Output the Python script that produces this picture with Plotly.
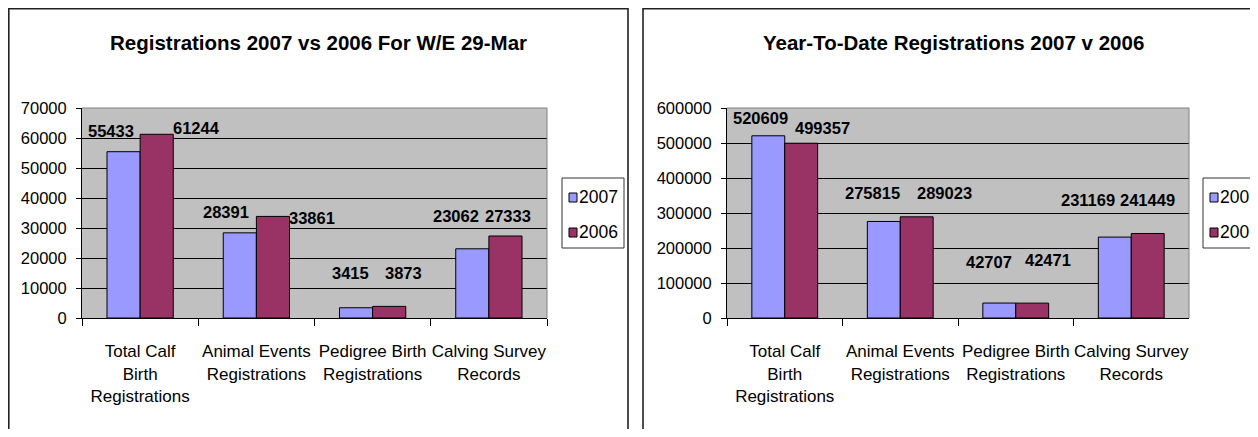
import plotly.graph_objects as go

# ---------------- data ----------------
categories = ["Total Calf<br>Birth<br>Registrations", "Animal Events<br>Registrations",
              "Pedigree Birth<br>Registrations", "Calving Survey<br>Records"]
series_names = ["2007", "2006"]

week_2007 = [55433, 28391, 3415, 23062]
week_2006 = [61244, 33861, 3873, 27333]

ytd_2007 = [520609, 275815, 42707, 231169]
ytd_2006 = [499357, 289023, 42471, 241449]

title_left = "Registrations 2007 vs 2006 For W/E 29-Mar"
title_right = "Year-To-Date Registrations 2007 v 2006"

# ---------------- styles ----------------
PAGE_OFF = 8          # default body margin of the html page
W, H = 1258 - PAGE_OFF, 437 - 2 * PAGE_OFF
C07 = "#9999FF"
C06 = "#993366"
FONT = "Liberation Sans, Arial, sans-serif"

def px(x):
    return (x - PAGE_OFF) / W

def py(y):
    return 1 - (y - PAGE_OFF) / H

# label offsets (dx, dy) in pixels relative to bar centre / bar top
left_off_07 = [(-13, -21), (-14, -21), (-6, -35), (-16, -33)]
left_off_06 = [(40, -6), (39, 2), (14, -33), (3, -20)]
right_off_07 = [(-8, -18), (-11, -28), (-10, -41), (-27, -37)]
right_off_06 = [(21, -15), (28, -24), (16, -43), (0, -33)]

fig = go.Figure()

panels = [
    ("x", "y", week_2007, week_2006, left_off_07, left_off_06),
    ("x2", "y2", ytd_2007, ytd_2006, right_off_07, right_off_06),
]

annotations = []
shapes = []
BAR_HALF = 16.5

for xa, ya, v07, v06, o07, o06 in panels:
    fig.add_trace(go.Bar(x=categories, y=v07, name=series_names[0], xaxis=xa, yaxis=ya,
                         marker=dict(color=C07, line=dict(color="black", width=1)),
                         showlegend=False))
    fig.add_trace(go.Bar(x=categories, y=v06, name=series_names[1], xaxis=xa, yaxis=ya,
                         marker=dict(color=C06, line=dict(color="black", width=1)),
                         showlegend=False))
    for vals, offs, sign in ((v07, o07, -1), (v06, o06, 1)):
        for cat, v, (dx, dy) in zip(categories, vals, offs):
            annotations.append(dict(
                x=cat, y=v, xref=xa, yref=ya, text=f"<b>{v}</b>", showarrow=False,
                xanchor="center", yanchor="middle",
                xshift=sign * BAR_HALF + dx, yshift=-dy,
                font=dict(family=FONT, size=16.5, color="black")))
    xd = xa + " domain"
    yd = ya + " domain"
    shapes.append(dict(type="line", xref=xd, yref=yd, x0=0, x1=1, y0=1, y1=1,
                       line=dict(color="#808080", width=1), layer="above"))
    shapes.append(dict(type="line", xref=xd, yref=yd, x0=1, x1=1, y0=0, y1=1,
                       line=dict(color="#808080", width=1), layer="above"))

# outer chart frames
for x0, x1 in ((8.8, 628), (643, 1270)):
    shapes.append(dict(type="rect", xref="paper", yref="paper",
                       x0=px(x0), x1=px(x1), y0=py(470), y1=py(8.8),
                       line=dict(color="#222222", width=1.6), fillcolor="rgba(0,0,0,0)",
                       layer="below"))

# titles
for t, cx in ((title_left, 318), (title_right, 953)):
    annotations.append(dict(x=px(cx), y=py(42), xref="paper", yref="paper", text=f"<b>{t}</b>",
                            showarrow=False, xanchor="center", yanchor="middle",
                            font=dict(family=FONT, size=20.5, color="black")))

# legends (drawn boxes)
for lx0, lx1 in ((562, 624), (1203, 1275)):
    shapes.append(dict(type="rect", xref="paper", yref="paper",
                       x0=px(lx0), x1=px(lx1), y0=py(248), y1=py(178),
                       line=dict(color="#333333", width=1), fillcolor="white"))
    for name, col, cy in ((series_names[0], C07, 197), (series_names[1], C06, 232)):
        shapes.append(dict(type="rect", xref="paper", yref="paper",
                           x0=px(lx0 + 7), x1=px(lx0 + 15), y0=py(cy + 5), y1=py(cy - 4),
                           line=dict(color="black", width=1), fillcolor=col))
        annotations.append(dict(x=px(lx0 + 15), y=py(cy), xref="paper", yref="paper", text=name,
                                showarrow=False, xanchor="left", yanchor="middle",
                                font=dict(family=FONT, size=17.5, color="black")))

ydom = [py(318), py(108)]
common_x = dict(type="category", range=[-0.5, 3.5], showline=True, linecolor="black", linewidth=1,
                ticks="outside", tickson="boundaries", ticklen=7, tickcolor="black",
                tickangle=0, automargin=False,
                tickfont=dict(family=FONT, size=17, color="black"), ticklabelstandoff=18,
                showgrid=False, zeroline=False, fixedrange=True)
common_y = dict(showline=True, linecolor="black", linewidth=1, ticks="outside", ticklen=5,
                tickcolor="black", showgrid=True, gridcolor="black", gridwidth=1,
                tickformat="d", automargin=False,
                tickfont=dict(family=FONT, size=16.5, color="black"), ticklabelstandoff=6,
                zeroline=False, fixedrange=True, domain=ydom)

fig.update_layout(
    width=W, height=H,
    margin=dict(l=0, r=0, t=0, b=0),
    paper_bgcolor="white", plot_bgcolor="#C0C0C0",
    barmode="group", bargap=0.43, bargroupgap=0,
    showlegend=False,
    font=dict(family=FONT, color="black"),
    xaxis=dict(domain=[px(82), px(547)], anchor="y", **common_x),
    yaxis=dict(range=[0, 70000], dtick=10000, anchor="x", **common_y),
    xaxis2=dict(domain=[px(727), px(1189)], anchor="y2", **common_x),
    yaxis2=dict(range=[0, 600000], dtick=100000, anchor="x2", **common_y),
    annotations=annotations,
    shapes=shapes,
)

fig.write_html("out.html")
